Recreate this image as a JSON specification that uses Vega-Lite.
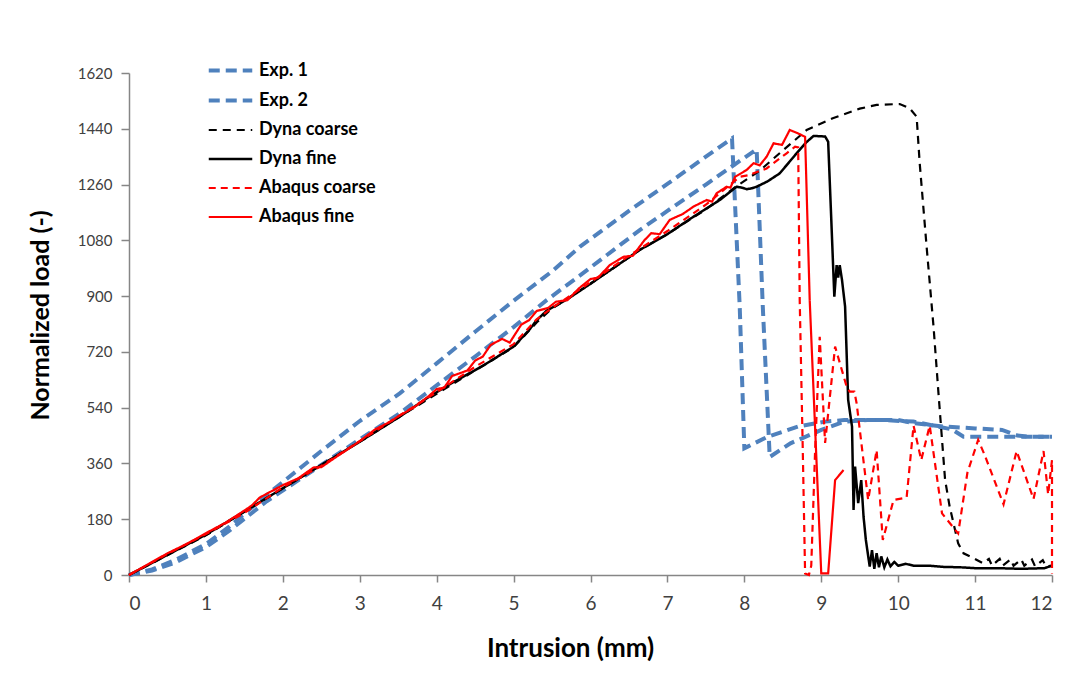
{
  "$schema": "https://vega.github.io/schema/vega-lite/v6.json",
  "width": 923,
  "height": 502,
  "autosize": {"type": "none"},
  "padding": {"left": 129, "top": 73, "right": 30, "bottom": 99},
  "background": "white",
  "config": {"view": {"stroke": null}, "font": "Lato, sans-serif"},
  "datasets": {
    "exp1": [
      {"x":0,"y":0},{"x":0.3,"y":18},{"x":0.6,"y":48},{"x":1,"y":100},{"x":1.3,"y":155},{"x":1.7,"y":240},{"x":2,"y":300},{"x":2.5,"y":400},{"x":3,"y":497},{"x":3.52,"y":586},{"x":4,"y":683},{"x":4.5,"y":785},{"x":5,"y":885},{"x":5.5,"y":980},{"x":5.86,"y":1059},{"x":6.5,"y":1175},{"x":7,"y":1262},{"x":7.5,"y":1350},{"x":7.84,"y":1409},{"x":7.94,"y":866},{"x":8.0,"y":409},{"x":8.05,"y":415},{"x":8.3,"y":446},{"x":8.7,"y":479},{"x":9.05,"y":495},{"x":9.3,"y":500},{"x":9.8,"y":500},{"x":10.2,"y":495},{"x":10.5,"y":480},{"x":10.7,"y":470},{"x":10.85,"y":446},{"x":11.2,"y":446},{"x":12,"y":446}
    ],
    "exp2": [
      {"x":0,"y":0},{"x":0.3,"y":14},{"x":0.6,"y":40},{"x":1,"y":90},{"x":1.3,"y":142},{"x":1.79,"y":238},{"x":2.5,"y":355},{"x":3,"y":438},{"x":3.52,"y":522},{"x":4,"y":612},{"x":4.5,"y":705},{"x":5,"y":800},{"x":5.43,"y":887},{"x":5.86,"y":966},{"x":6.64,"y":1113},{"x":7,"y":1175},{"x":7.5,"y":1260},{"x":8.16,"y":1374},{"x":8.24,"y":866},{"x":8.33,"y":381},{"x":8.6,"y":425},{"x":9.0,"y":468},{"x":9.3,"y":495},{"x":9.6,"y":500},{"x":10.0,"y":500},{"x":10.2,"y":490},{"x":10.6,"y":479},{"x":11.0,"y":473},{"x":11.35,"y":468},{"x":11.55,"y":450},{"x":11.7,"y":446},{"x":12,"y":446}
    ],
    "dynac": [
      {"x":0,"y":0},{"x":1,"y":128},{"x":2,"y":280},{"x":3,"y":430},{"x":3.52,"y":511},{"x":4,"y":585},{"x":5,"y":735},{"x":5.3,"y":815},{"x":5.5,"y":860},{"x":6,"y":940},{"x":6.64,"y":1049},{"x":7,"y":1100},{"x":7.5,"y":1180},{"x":7.9,"y":1255},{"x":8.2,"y":1305},{"x":8.5,"y":1370},{"x":8.81,"y":1436},{"x":9.15,"y":1474},{"x":9.5,"y":1505},{"x":9.72,"y":1517},{"x":10.02,"y":1520},{"x":10.15,"y":1506},{"x":10.24,"y":1479},{"x":10.28,"y":1329},{"x":10.37,"y":1059},{"x":10.46,"y":801},{"x":10.52,"y":600},{"x":10.61,"y":307},{"x":10.67,"y":220},{"x":10.78,"y":102},{"x":10.85,"y":70},{"x":10.98,"y":54},{"x":11.1,"y":38},{"x":11.18,"y":52},{"x":11.22,"y":30},{"x":11.32,"y":52},{"x":11.36,"y":30},{"x":11.46,"y":50},{"x":11.5,"y":30},{"x":11.6,"y":50},{"x":11.64,"y":30},{"x":11.74,"y":50},{"x":11.78,"y":28},{"x":11.88,"y":48},{"x":11.92,"y":28},{"x":12,"y":30}
    ],
    "dynaf": [
      {"x":0,"y":0},{"x":0.5,"y":65},{"x":1,"y":130},{"x":1.5,"y":205},{"x":2,"y":280},{"x":2.5,"y":355},{"x":3,"y":430},{"x":3.52,"y":511},{"x":3.87,"y":570},{"x":4.2,"y":620},{"x":4.6,"y":675},{"x":5.0,"y":737},{"x":5.2,"y":790},{"x":5.3,"y":822},{"x":5.43,"y":853},{"x":5.7,"y":890},{"x":6,"y":940},{"x":6.64,"y":1049},{"x":7,"y":1100},{"x":7.3,"y":1150},{"x":7.68,"y":1210},{"x":7.9,"y":1253},{"x":7.97,"y":1250},{"x":8.03,"y":1245},{"x":8.1,"y":1248},{"x":8.16,"y":1253},{"x":8.3,"y":1270},{"x":8.46,"y":1296},{"x":8.68,"y":1361},{"x":8.8,"y":1395},{"x":8.9,"y":1417},{"x":9.05,"y":1415},{"x":9.09,"y":1398},{"x":9.13,"y":1150},{"x":9.17,"y":898},{"x":9.2,"y":1000},{"x":9.22,"y":960},{"x":9.24,"y":1000},{"x":9.27,"y":952},{"x":9.31,"y":866},{"x":9.35,"y":565},{"x":9.4,"y":479},{"x":9.42,"y":210},{"x":9.44,"y":350},{"x":9.48,"y":232},{"x":9.52,"y":306},{"x":9.55,"y":188},{"x":9.58,"y":113},{"x":9.63,"y":27},{"x":9.66,"y":80},{"x":9.69,"y":20},{"x":9.72,"y":70},{"x":9.75,"y":25},{"x":9.78,"y":60},{"x":9.82,"y":25},{"x":9.86,"y":50},{"x":9.9,"y":28},{"x":9.95,"y":42},{"x":10,"y":30},{"x":10.1,"y":36},{"x":10.2,"y":30},{"x":10.4,"y":30},{"x":10.6,"y":26},{"x":10.8,"y":25},{"x":11,"y":22},{"x":11.3,"y":22},{"x":11.6,"y":20},{"x":11.9,"y":22},{"x":12,"y":30}
    ],
    "abac": [
      {"x":0,"y":0},{"x":0.5,"y":68},{"x":1,"y":132},{"x":1.5,"y":200},{"x":2,"y":283},{"x":2.5,"y":352},{"x":3,"y":432},{"x":3.5,"y":512},{"x":4,"y":590},{"x":4.5,"y":672},{"x":5,"y":745},{"x":5.3,"y":825},{"x":5.5,"y":862},{"x":6,"y":945},{"x":6.5,"y":1030},{"x":7,"y":1110},{"x":7.5,"y":1195},{"x":7.94,"y":1285},{"x":8.05,"y":1290},{"x":8.29,"y":1312},{"x":8.55,"y":1361},{"x":8.66,"y":1382},{"x":8.7,"y":1380},{"x":8.72,"y":887},{"x":8.76,"y":400},{"x":8.79,"y":5},{"x":8.84,"y":0},{"x":8.87,"y":30},{"x":8.92,"y":400},{"x":8.98,"y":769},{"x":9.05,"y":426},{"x":9.18,"y":737},{"x":9.33,"y":608},{"x":9.37,"y":592},{"x":9.43,"y":592},{"x":9.46,"y":554},{"x":9.61,"y":242},{"x":9.72,"y":403},{"x":9.8,"y":113},{"x":9.94,"y":242},{"x":10.11,"y":250},{"x":10.2,"y":482},{"x":10.3,"y":371},{"x":10.41,"y":482},{"x":10.57,"y":199},{"x":10.78,"y":134},{"x":10.9,"y":330},{"x":11.04,"y":436},{"x":11.12,"y":390},{"x":11.37,"y":228},{"x":11.54,"y":400},{"x":11.76,"y":245},{"x":11.89,"y":400},{"x":11.95,"y":260},{"x":12,"y":371},{"x":12,"y":5}
    ],
    "abaf": [
      {"x":0,"y":0},{"x":0.25,"y":35},{"x":0.5,"y":70},{"x":0.75,"y":100},{"x":1,"y":135},{"x":1.25,"y":168},{"x":1.5,"y":208},{"x":1.6,"y":225},{"x":1.7,"y":250},{"x":2,"y":290},{"x":2.2,"y":312},{"x":2.4,"y":347},{"x":2.5,"y":348},{"x":2.7,"y":382},{"x":2.9,"y":415},{"x":3.0,"y":432},{"x":3.2,"y":470},{"x":3.4,"y":495},{"x":3.5,"y":512},{"x":3.7,"y":540},{"x":3.9,"y":578},{"x":4.0,"y":600},{"x":4.1,"y":605},{"x":4.2,"y":642},{"x":4.4,"y":660},{"x":4.5,"y":692},{"x":4.6,"y":705},{"x":4.7,"y":742},{"x":4.85,"y":762},{"x":4.95,"y":750},{"x":5.1,"y":808},{"x":5.2,"y":822},{"x":5.3,"y":852},{"x":5.45,"y":862},{"x":5.55,"y":882},{"x":5.7,"y":887},{"x":5.85,"y":925},{"x":6.0,"y":955},{"x":6.1,"y":960},{"x":6.25,"y":1000},{"x":6.43,"y":1027},{"x":6.55,"y":1030},{"x":6.7,"y":1080},{"x":6.79,"y":1103},{"x":6.9,"y":1100},{"x":7.03,"y":1146},{"x":7.2,"y":1165},{"x":7.34,"y":1189},{"x":7.51,"y":1210},{"x":7.58,"y":1205},{"x":7.64,"y":1232},{"x":7.77,"y":1253},{"x":7.82,"y":1250},{"x":7.88,"y":1285},{"x":8.03,"y":1307},{"x":8.12,"y":1329},{"x":8.2,"y":1322},{"x":8.29,"y":1350},{"x":8.38,"y":1393},{"x":8.49,"y":1388},{"x":8.59,"y":1436},{"x":8.7,"y":1425},{"x":8.79,"y":1414},{"x":8.85,"y":887},{"x":9.0,"y":5},{"x":9.09,"y":5},{"x":9.18,"y":306},{"x":9.29,"y":339}
    ]
  },
  "layer": [
    {"data": {"name": "exp1"}, "transform": [{"calculate": "'Exp. 1'", "as": "s"}], "mark": {"type": "line"}, "encoding": {}},
    {"data": {"name": "exp2"}, "transform": [{"calculate": "'Exp. 2'", "as": "s"}], "mark": {"type": "line"}, "encoding": {}},
    {"data": {"name": "dynac"}, "transform": [{"calculate": "'Dyna coarse'", "as": "s"}], "mark": {"type": "line"}, "encoding": {}},
    {"data": {"name": "dynaf"}, "transform": [{"calculate": "'Dyna fine'", "as": "s"}], "mark": {"type": "line"}, "encoding": {}},
    {"data": {"name": "abac"}, "transform": [{"calculate": "'Abaqus coarse'", "as": "s"}], "mark": {"type": "line"}, "encoding": {}},
    {"data": {"name": "abaf"}, "transform": [{"calculate": "'Abaqus fine'", "as": "s"}], "mark": {"type": "line"}, "encoding": {}}
  ],
  "encoding": {
    "x": {"field": "x", "type": "quantitative",
      "scale": {"domain": [0, 12], "nice": false},
      "axis": {"values": [0,1,2,3,4,5,6,7,8,9,10,11,12], "title": "Intrusion (mm)", "grid": false,
        "labelFontSize": 19, "labelColor": "#404040", "labelPadding": 12,
        "tickSize": 7, "tickWidth": 1.5, "tickColor": "#868686", "domainColor": "#868686", "domainWidth": 1.5,
        "titleFontSize": 26, "titleFontWeight": "bold", "titleColor": "#000000",
        "titleX": 441, "titleY": 73, "titleBaseline": "middle", "titleAlign": "center"}},
    "y": {"field": "y", "type": "quantitative",
      "scale": {"domain": [0, 1620], "nice": false},
      "axis": {"values": [0,180,360,540,720,900,1080,1260,1440,1620], "format": "d", "title": "Normalized load (-)", "grid": false,
        "labelFontSize": 15, "labelColor": "#404040", "labelPadding": 9,
        "tickSize": 8, "tickWidth": 1.5, "tickColor": "#868686", "domainColor": "#868686", "domainWidth": 1.5,
        "titleFontSize": 25, "titleFontWeight": "bold", "titleColor": "#000000",
        "titleX": -89, "titleY": 242, "titleBaseline": "middle", "titleAlign": "center", "titleAngle": -90}},
    "color": {"field": "s", "type": "nominal",
      "scale": {"domain": ["Exp. 1", "Exp. 2", "Dyna coarse", "Dyna fine", "Abaqus coarse", "Abaqus fine"],
        "range": ["#4F81BD", "#4F81BD", "#000000", "#000000", "#FF0000", "#FF0000"]},
      "legend": {"orient": "none", "legendX": 85, "legendY": -19, "title": null, "padding": 0,
        "symbolType": "M-1.5,0H1.5", "symbolSize": 841, "rowPadding": 4, "labelOffset": 12,
        "labelFontSize": 18, "labelFontWeight": "bold", "labelColor": "#000000", "symbolFillColor": "transparent"}},
    "strokeDash": {"field": "s", "type": "nominal",
      "scale": {"domain": ["Exp. 1", "Exp. 2", "Dyna coarse", "Dyna fine", "Abaqus coarse", "Abaqus fine"],
        "range": [[11, 6], [11, 6], [8, 6], [1, 0], [7, 5], [1, 0]]},
      "legend": {"orient": "none", "legendX": 85, "legendY": -19, "title": null, "padding": 0,
        "symbolType": "M-1.5,0H1.5", "symbolSize": 841, "rowPadding": 4, "labelOffset": 12,
        "labelFontSize": 18, "labelFontWeight": "bold", "labelColor": "#000000", "symbolFillColor": "transparent"}},
    "strokeWidth": {"field": "s", "type": "nominal",
      "scale": {"type": "ordinal", "domain": ["Exp. 1", "Exp. 2", "Dyna coarse", "Dyna fine", "Abaqus coarse", "Abaqus fine"],
        "range": [4, 4, 2.2, 2.5, 2.2, 2.2]},
      "legend": {"orient": "none", "legendX": 85, "legendY": -19, "title": null, "padding": 0,
        "symbolType": "M-1.5,0H1.5", "symbolSize": 841, "rowPadding": 4, "labelOffset": 12,
        "labelFontSize": 18, "labelFontWeight": "bold", "labelColor": "#000000", "symbolFillColor": "transparent"}},
    "order": {"value": null}
  }
}
